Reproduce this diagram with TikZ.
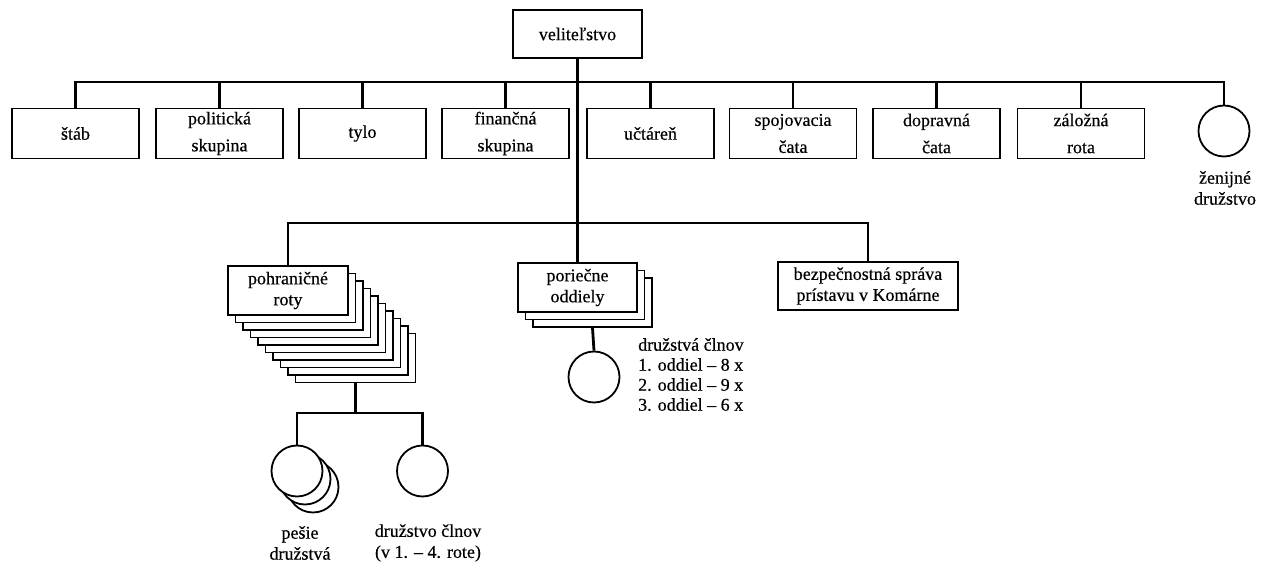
\documentclass[tikz,border=0pt]{standalone}
\usepackage{fontspec}
\setmainfont{Liberation Serif}[FakeBold=0.4]
\newcommand{\dfont}{\fontsize{18}{21}\selectfont}
\newcommand{\tfont}{\fontsize{18}{27}\selectfont}
\begin{document}
\begin{tikzpicture}[x=1pt,y=-1pt,
  box/.style={draw,line width=1.8pt,fill=white,inner sep=0pt,align=center,font=\dfont},
  topbox/.style={box,minimum width=127pt,minimum height=50pt,font=\tfont},
  pbox/.style={box,minimum width=120pt,minimum height=49pt},
  obox/.style={box,minimum width=119pt,minimum height=49pt},
  circ/.style={draw,line width=1.8pt,fill=white,circle,inner sep=0pt,minimum size=51pt},
  lbl/.style={inner sep=0pt,align=center,font=\dfont},
  conn/.style={line width=2.8pt}]
\useasboundingbox (0,0) rectangle (1262,564);
% bus coordinates
\coordinate (b1) at (577.5,82);
\coordinate (b2) at (577.5,223);
\coordinate (b3) at (355.5,413);
% top
\node[box,minimum width=129pt,minimum height=48pt] (vel) at (577.5,34) {veliteľstvo};
\node[topbox] (stab) at (75.5,133.5) {štáb};
\node[topbox] (pol) at (219.5,133.5) {politická\\skupina};
\node[topbox] (tyl) at (362.5,133.5) {tylo};
\node[topbox] (fin) at (505.5,133.5) {finančná\\skupina};
\node[topbox] (uct) at (650.5,133.5) {učtáreň};
\node[topbox] (spo) at (793,133.5) {spojovacia\\čata};
\node[topbox] (dop) at (936.5,133.5) {dopravná\\čata};
\node[topbox] (zal) at (1081,133.5) {záložná\\rota};
\node[circ] (zen) at (1224,131) {};
\node[lbl] (zenl) at (1225,188) {ženijné\\družstvo};
% pohranicne stack
\foreach \k in {9,8,...,1}{
  \node[pbox] (p\k) at ({288+7.5*\k},{290.5+7.5*\k}) {};
}
\node[pbox] (p0) at (288,290.5) {pohraničné\\roty};
% poriecne stack
\foreach \k in {2,1}{
  \node[obox] (o\k) at ({577.5+7.5*\k},{287.5+7.5*\k}) {};
}
\node[obox] (o0) at (577.5,287.5) {poriečne\\oddiely};
\node[box,minimum width=180pt,minimum height=48pt] (bez) at (868,286) {bezpečnostná správa\\prístavu v Komárne};
% circles below
\node[circ] (oc) at (594,377) {};
\node[lbl,anchor=north west,align=left,font=\fontsize{18}{20}\selectfont] (ocl) at (638,338) {družstvá člnov\\1. oddiel -- 8 x\\2. oddiel -- 9 x\\3. oddiel -- 6 x};
\node[circ] (pc2) at (313,487) {};
\node[circ] (pc1) at (305,479) {};
\node[circ] (pc0) at (297,471) {};
\node[circ] (dc) at (422.5,471) {};
\node[lbl] (pcl) at (300,543) {pešie\\družstvá};
\node[lbl] (dcl) at (428,543) {družstvo člnov\\(v 1. -- 4. rote)};
% connectors
\draw[conn] (vel.south) -- (o0.north);
\draw[conn] (stab.north) -- (stab.north |- b1) -- (zen.north |- b1) -- (zen.north);
\foreach \n in {pol,tyl,fin,uct,spo,dop,zal}{
  \draw[conn] (\n.north) -- (\n.north |- b1);
}
\draw[conn] (p0.north) -- (p0.north |- b2) -- (bez.north |- b2) -- (bez.north);
\draw[conn] (o2.south) -- (oc.north);
\draw[conn] (p9.south) -- (b3);
\draw[conn] (pc0.north) -- (pc0.north |- b3) -- (dc.north |- b3) -- (dc.north);
\end{tikzpicture}
\end{document}
